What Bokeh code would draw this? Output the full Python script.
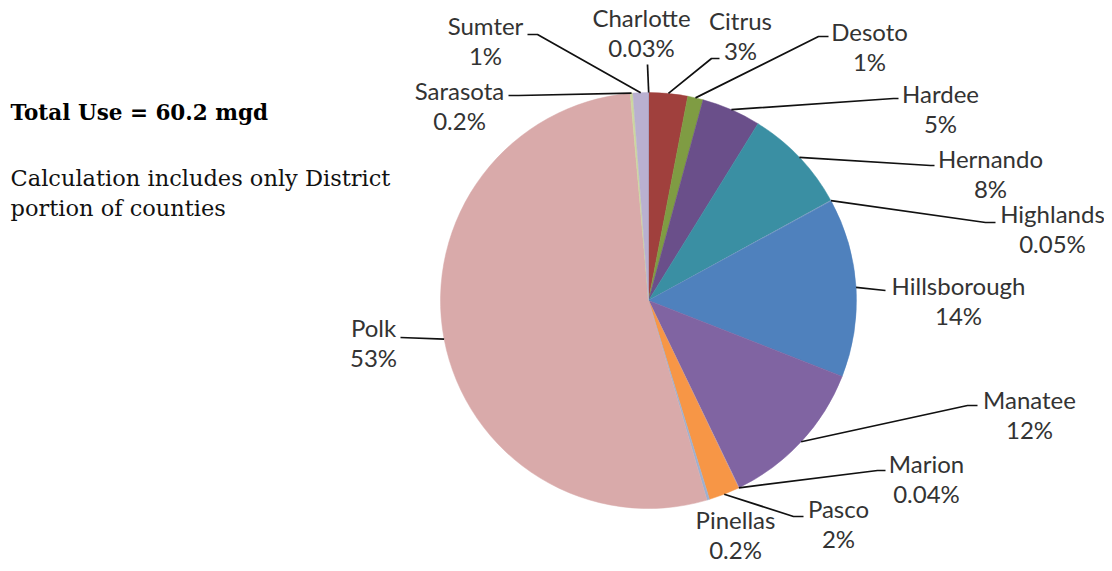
import numpy as np
from bokeh.plotting import figure
from bokeh.models import Range1d, ColumnDataSource
from bokeh.core.properties import value
from bokeh.embed import file_html
from bokeh.resources import INLINE

# ---- data (clockwise from 12 o'clock) ----
counties = ["Charlotte", "Citrus", "Desoto", "Hardee", "Hernando", "Highlands",
            "Hillsborough", "Manatee", "Marion", "Pasco", "Pinellas", "Polk",
            "Sarasota", "Sumter"]
shares = [0.03, 3.0, 1.2, 4.6, 8.2, 0.05, 13.9, 11.9, 0.04, 2.4, 0.2, 53.2, 0.2, 1.2]
pct_labels = ["0.03%", "3%", "1%", "5%", "8%", "0.05%", "14%", "12%", "0.04%",
              "2%", "0.2%", "53%", "0.2%", "1%"]
colors = ["#4A7EBB", "#A0403D", "#7F9C43", "#6A4F8A", "#3A8FA3", "#8FA9C8",
          "#4F81BD", "#8064A2", "#B0A0C8", "#F79646", "#9DB0D0", "#D9AAAA",
          "#CCD7A0", "#B9B0D0"]

title_text = "Total Use = 60.2 mgd"
note_lines = ["Calculation includes only District", "portion of counties"]

# ---- layout (reference pixel coordinates from top-left) ----
W, H = 1104, 563
def px(x): return x
def py(y): return H - y

CX, CY, R = 648, 300, 208
# label centre (name line), elbow point, end of horizontal segment
label_x = [641, 740, 869, 940, 990, 1052, 958, 1029, 926, 838, 735, 373, 459, 485]
label_y = [17, 20, 31, 93, 158, 213, 285, 399, 463, 508, 519, 327, 90, 25]
elbow_x = [647, 711, 818, 893, 930, 985, 885, 967, 877, 793, None, 400, 518, 537]
elbow_y = [64, 58, 36, 98, 165, 222, 290, 405, 470, 516, None, 337, 95, 34]
end_x = [647, 719, 828, 898, 934, 995, 885, 977, 885, 803, None, 400, 508, 527]

vals = np.array(shares, dtype=float)
frac = vals / vals.sum()
cum_end = np.cumsum(frac)
cum_start = cum_end - frac
start_angle = np.pi / 2 - cum_end * 2 * np.pi
end_angle = np.pi / 2 - cum_start * 2 * np.pi
mid = (cum_start + cum_end) / 2 * 2 * np.pi  # clockwise from top

p = figure(width=W, height=H, output_backend="svg", toolbar_location=None,
           x_range=Range1d(0, W), y_range=Range1d(0, H), min_border=0)
p.axis.visible = False
p.grid.visible = False
p.outline_line_color = None
p.background_fill_color = "white"

src = ColumnDataSource(dict(sa=start_angle, ea=end_angle, color=colors, county=counties))
p.wedge(x=px(CX), y=py(CY), radius=R, start_angle="sa", end_angle="ea",
        direction="anticlock", fill_color="color", line_color="color",
        line_width=0.5, source=src)

# leader lines
xs, ys = [], []
for i in range(len(counties)):
    if elbow_x[i] is None:
        continue
    sx = CX + R * np.sin(mid[i])
    sy = CY - R * np.cos(mid[i])
    xs.append([px(sx), px(elbow_x[i]), px(end_x[i])])
    ys.append([py(sy), py(elbow_y[i]), py(elbow_y[i])])
p.multi_line(xs=xs, ys=ys, line_color="#111111", line_width=1.7)

lab_font = value("Lato")
p.text(x=[px(v) for v in label_x], y=[py(v) for v in label_y], text=counties,
       text_align="center", text_baseline="middle", text_font=lab_font,
       text_font_size="24px", text_color="#333333")
p.text(x=[px(v) for v in label_x], y=[py(v + 29.5) for v in label_y], text=pct_labels,
       text_align="center", text_baseline="middle", text_font=lab_font,
       text_font_size="24px", text_color="#333333")

serif = value("DejaVu Serif")
p.text(x=[px(10)], y=[py(112)], text=[title_text], text_align="left",
       text_baseline="middle", text_font=serif, text_font_size="21.5px",
       text_font_style="bold", text_color="#000000")
p.text(x=[px(10), px(10)], y=[py(177), py(207)], text=note_lines, text_align="left",
       text_baseline="middle", text_font=serif, text_font_size="22.5px",
       text_color="#111111")

open("out.html", "w").write(file_html(p, INLINE))
